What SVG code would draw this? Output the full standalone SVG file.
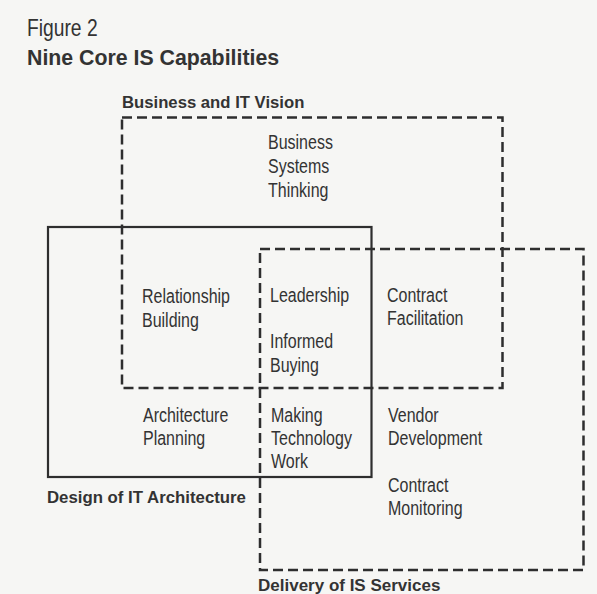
<svg xmlns="http://www.w3.org/2000/svg" width="597" height="594" viewBox="0 0 597 594">
<style>
.bg{fill:#f6f6f4}
.t{font-family:"Liberation Sans",Arial,sans-serif;font-size:19.5px;fill:#333}
.h{font-family:"Liberation Sans",Arial,sans-serif;font-weight:bold;fill:#333}
.dash{fill:none;stroke:#2e2e2e;stroke-width:2.5;stroke-dasharray:10 5}
.solid{fill:none;stroke:#2e2e2e;stroke-width:2.2}
</style>
<rect class="bg" x="0" y="0" width="597" height="594"/>
<g id="title">
<text class="t" transform="translate(27 36) scale(0.82 1)" style="font-size:23.5px">Figure 2</text>
<text class="h" x="27" y="65" style="font-size:21.3px">Nine Core IS Capabilities</text>
</g>
<g id="connectors">
<rect id="vision-box" class="dash" x="122" y="117.5" width="380.5" height="270.5"/>
<rect id="design-box" class="solid" x="48" y="227" width="323.5" height="250"/>
<rect id="delivery-box" class="dash" x="260" y="249" width="323.5" height="321"/>
</g>
<g id="vision-label"><text class="h" x="122" y="108" style="font-size:16.7px">Business and IT Vision</text></g>
<g id="design-label"><text class="h" x="47" y="503" style="font-size:16.8px">Design of IT Architecture</text></g>
<g id="delivery-label"><text class="h" x="258" y="591" style="font-size:17px">Delivery of IS Services</text></g>
<g id="business-systems-thinking">
<text class="t" transform="translate(268 149) scale(0.82 1)">Business</text>
<text class="t" transform="translate(268 173) scale(0.82 1)">Systems</text>
<text class="t" transform="translate(268 197) scale(0.82 1)">Thinking</text>
</g>
<g id="relationship-building">
<text class="t" transform="translate(142 303) scale(0.82 1)">Relationship</text>
<text class="t" transform="translate(142 327) scale(0.82 1)">Building</text>
</g>
<g id="leadership">
<text class="t" transform="translate(270 302) scale(0.82 1)">Leadership</text>
</g>
<g id="informed-buying">
<text class="t" transform="translate(270 348) scale(0.82 1)">Informed</text>
<text class="t" transform="translate(270 372) scale(0.82 1)">Buying</text>
</g>
<g id="contract-facilitation">
<text class="t" transform="translate(387 302) scale(0.82 1)">Contract</text>
<text class="t" transform="translate(387 325) scale(0.82 1)">Facilitation</text>
</g>
<g id="architecture-planning">
<text class="t" transform="translate(143 422) scale(0.82 1)">Architecture</text>
<text class="t" transform="translate(143 445) scale(0.82 1)">Planning</text>
</g>
<g id="making-technology-work">
<text class="t" transform="translate(271 422) scale(0.82 1)">Making</text>
<text class="t" transform="translate(271 445) scale(0.82 1)">Technology</text>
<text class="t" transform="translate(271 468) scale(0.82 1)">Work</text>
</g>
<g id="vendor-development">
<text class="t" transform="translate(388 422) scale(0.82 1)">Vendor</text>
<text class="t" transform="translate(388 445) scale(0.82 1)">Development</text>
</g>
<g id="contract-monitoring">
<text class="t" transform="translate(388 492) scale(0.82 1)">Contract</text>
<text class="t" transform="translate(388 515) scale(0.82 1)">Monitoring</text>
</g>
</svg>
